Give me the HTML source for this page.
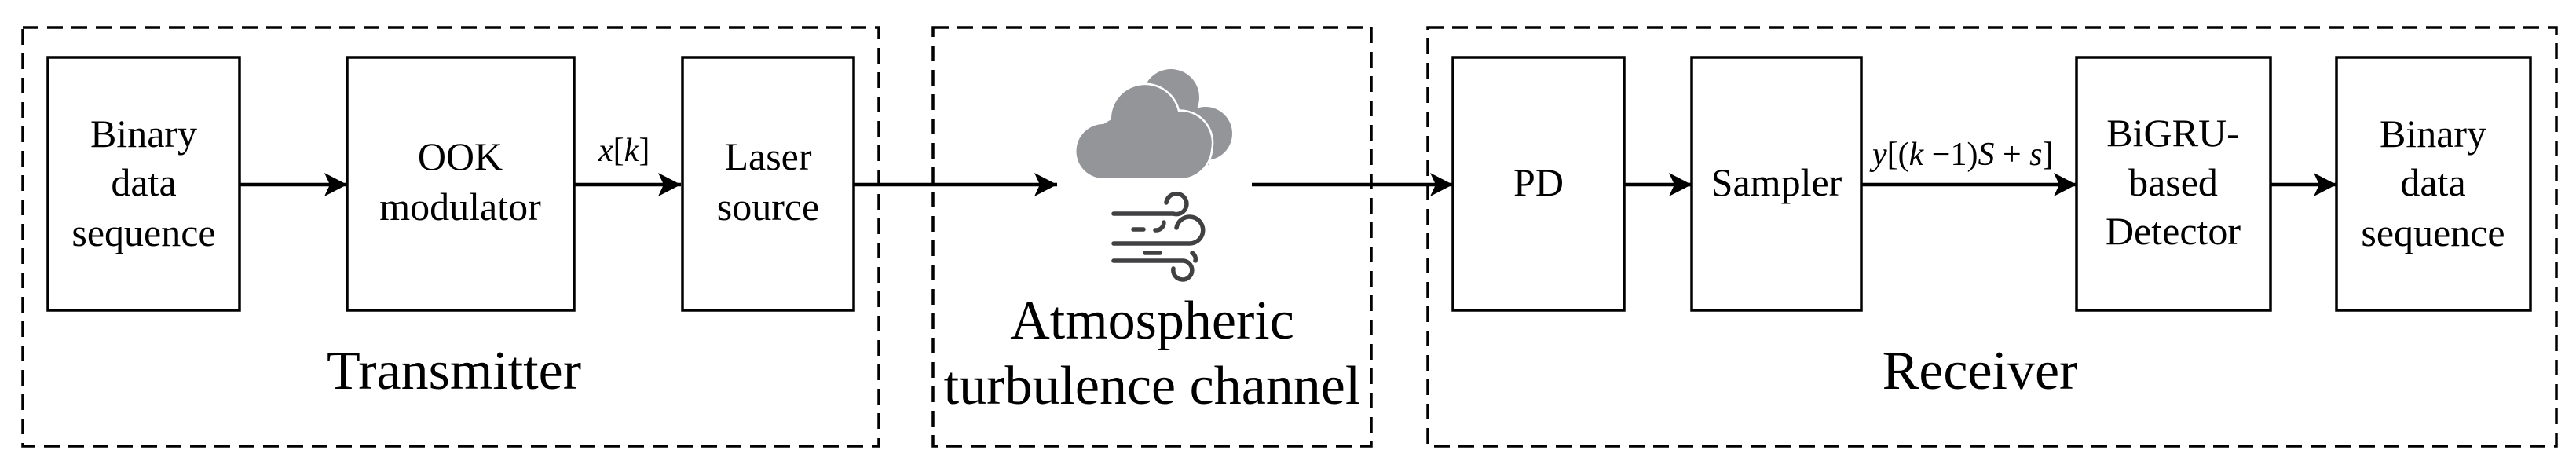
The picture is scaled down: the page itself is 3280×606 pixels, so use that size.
<!DOCTYPE html>
<html><head><meta charset="utf-8"><style>
html,body{margin:0;padding:0;background:#fff;}
svg{display:block;font-family:"Liberation Serif","Noto Serif CJK SC","DejaVu Serif",serif;}
</style></head><body>
<svg width="3280" height="606" viewBox="0 0 3280 606" xmlns="http://www.w3.org/2000/svg">
<defs>
<marker id="ah" markerUnits="userSpaceOnUse" markerWidth="30" markerHeight="30" refX="29" refY="15" orient="auto">
<path d="M0,0 L29,15 L0,30 L7,15 Z" fill="#000"/>
</marker>
</defs>
<g fill="none" stroke="#000" stroke-width="3.5" stroke-dasharray="20 11">
<rect x="29" y="35" width="1090" height="533"/>
<rect x="1188" y="35" width="558" height="533"/>
<rect x="1818" y="35" width="1437" height="533"/>
</g>
<g fill="none" stroke="#000" stroke-width="3.5">
<rect x="61" y="73" width="244" height="322"/>
<rect x="442" y="73" width="289" height="322"/>
<rect x="869" y="73" width="218" height="322"/>
<rect x="1850" y="73" width="218" height="322"/>
<rect x="2154" y="73" width="216" height="322"/>
<rect x="2644" y="73" width="247" height="322"/>
<rect x="2975" y="73" width="247" height="322"/>
</g>
<g stroke="#000" stroke-width="4.5" fill="none" marker-end="url(#ah)">
<line x1="305" y1="235" x2="442" y2="235"/>
<line x1="731" y1="235" x2="867" y2="235"/>
<line x1="1087" y1="235" x2="1346" y2="235"/>
<line x1="1594" y1="235" x2="1850" y2="235"/>
<line x1="2068" y1="235" x2="2154" y2="235"/>
<line x1="2370" y1="235" x2="2644" y2="235"/>
<line x1="2891" y1="235" x2="2975" y2="235"/>
</g>
<g fill="#939598">
<circle cx="1491" cy="124" r="36"/>
<circle cx="1535" cy="170" r="34"/>
<rect x="1480" y="150" width="60" height="60"/>
</g>
<path d="M1405,227 A34,34 0 0 1 1405,158 L1415,152 A43,43 0 0 1 1500,142 A40,40 0 0 1 1542,190 A40,40 0 0 1 1505,227 Z" fill="#939598" stroke="#fff" stroke-width="5"/>
<path d="M1405,227 A34,34 0 0 1 1405,158 L1415,152 A43,43 0 0 1 1500,142 A40,40 0 0 1 1542,190 A40,40 0 0 1 1505,227 Z" fill="#939598"/>
<g fill="none" stroke="#414042" stroke-width="5.5" stroke-linecap="round">
<path d="M1418,272 H1494 A13,13 0 1 0 1485,258"/>
<line x1="1443" y1="292" x2="1456" y2="292"/>
<path d="M1471,293 A10,10 0 0 0 1482,283"/>
<path d="M1418,310 H1515 A17,17 0 1 0 1498,290"/>
<line x1="1458" y1="322" x2="1477" y2="322"/>
<path d="M1418,332 H1505 A12,12 0 1 1 1494,342"/>
<path d="M1518,322 A9,9 0 0 1 1522,332"/>
</g>
<g font-size="50" text-anchor="middle" fill="#000">
<text x="183" y="187">Binary</text>
<text x="183" y="249">data</text>
<text x="183" y="313">sequence</text>
<text x="586" y="216">OOK</text>
<text x="586" y="280">modulator</text>
<text x="978" y="216">Laser</text>
<text x="978" y="280">source</text>
<text x="1959" y="249">PD</text>
<text x="2262" y="249">Sampler</text>
<text x="2767" y="186">BiGRU-</text>
<text x="2767" y="249">based</text>
<text x="2767" y="311">Detector</text>
<text x="3098" y="187">Binary</text>
<text x="3098" y="249">data</text>
<text x="3098" y="313">sequence</text>
</g>
<g font-size="70" text-anchor="middle" fill="#000">
<text x="578" y="495">Transmitter</text>
<text x="1467" y="431">Atmospheric</text>
<text x="1467" y="514">turbulence channel</text>
<text x="2521" y="495">Receiver</text>
</g>
<text x="762" y="205" font-size="42"><tspan font-style="italic">x</tspan>[<tspan font-style="italic">k</tspan>]</text>
<text x="2384" y="210" font-size="42"><tspan font-style="italic">y</tspan>[(<tspan font-style="italic">k</tspan> −1)<tspan font-style="italic">S</tspan> + <tspan font-style="italic">s</tspan>]</text>
</svg>
</body></html>
